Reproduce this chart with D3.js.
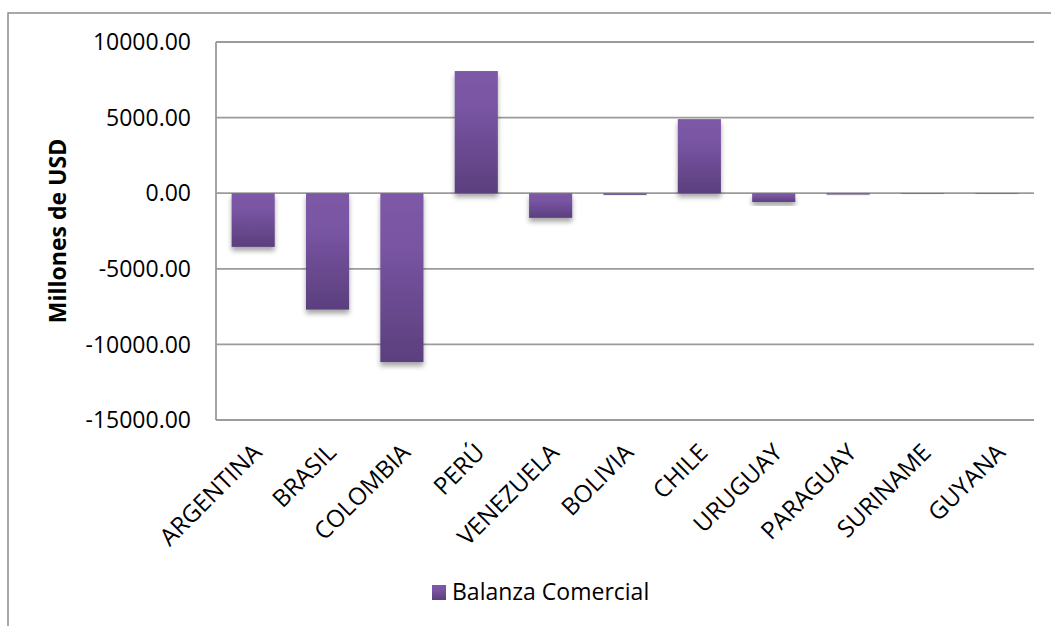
<!DOCTYPE html>
<html><head><meta charset="utf-8">
<script src="https://cdn.jsdelivr.net/npm/d3@7"></script>
<style>body{margin:0;background:#fff}svg{display:block}text{font-family:"Open Sans",sans-serif;fill:#000}</style>
</head><body><svg id="c" width="1051" height="626"></svg>
<script>
const categories = ["ARGENTINA","BRASIL","COLOMBIA","PERÚ","VENEZUELA","BOLIVIA","CHILE","URUGUAY","PARAGUAY","SURINAME","GUYANA"];
const values = [-3550, -7700, -11170, 8080, -1630, -110, 4900, -580, -90, -20, -30];
const yTicks = [10000, 5000, 0, -5000, -10000, -15000];
const seriesName = "Balanza Comercial";
const yTitle = "Millones de USD";

const svg = d3.select("#c");
const L = 216, R = 1034, T = 42, B = 420;
const x = d3.scaleBand().domain(categories).range([L, R]).paddingInner(0.42).paddingOuter(0.21);
const y = d3.scaleLinear().domain([-15000, 10000]).range([B, T]);

const defs = svg.append("defs");
const g = defs.append("linearGradient").attr("id","bg").attr("x1",0).attr("y1",0).attr("x2",0).attr("y2",1);
g.append("stop").attr("offset","0%").attr("stop-color","#7c59a7");
g.append("stop").attr("offset","30%").attr("stop-color","#7955a3");
g.append("stop").attr("offset","100%").attr("stop-color","#5b3f7d");
const f = defs.append("filter").attr("id","sh").attr("x","-20%").attr("y","-20%").attr("width","140%").attr("height","160%");
f.append("feDropShadow").attr("dx",0).attr("dy",4).attr("stdDeviation",2.5).attr("flood-color","#000").attr("flood-opacity",0.35);

// outer frame
svg.append("rect").attr("x",8).attr("y",13).attr("width",1200).attr("height",800)
  .attr("fill","none").attr("stroke","#8c8c8c").attr("stroke-width",1.5);

// gridlines
svg.append("g").selectAll("line").data(yTicks).join("line")
  .attr("x1",L).attr("x2",R).attr("y1",d=>y(d)).attr("y2",d=>y(d))
  .attr("stroke","#9b9b9b").attr("stroke-width",1.8);
svg.append("line").attr("x1",L).attr("x2",L).attr("y1",T).attr("y2",B)
  .attr("stroke","#9b9b9b").attr("stroke-width",1.8);

// y tick labels
const fmt = d => d3.format(".2f")(d).replace("\u2212","-");
svg.append("g").selectAll("text").data(yTicks).join("text")
  .attr("x",191).attr("y",d=>y(d)).attr("dy","0.36em").attr("text-anchor","end")
  .attr("font-size",23).text(fmt);

// bars
svg.append("g").selectAll("rect").data(values).join("rect")
  .attr("x",(d,i)=>x(categories[i])).attr("width",x.bandwidth())
  .attr("y",d=>y(Math.max(0,d))).attr("height",d=>Math.max(0.6,Math.abs(y(d)-y(0))))
  .attr("fill","url(#bg)").attr("filter","url(#sh)");

// x labels
svg.append("g").selectAll("text").data(categories).join("text")
  .attr("transform",d=>`translate(${x(d)+x.bandwidth()/2+4},448) rotate(-45)`)
  .attr("text-anchor","end").attr("dy","0.35em").attr("font-size",24).text(d=>d);

// y title
svg.append("text").attr("transform","translate(58,231) rotate(-90)")
  .attr("text-anchor","middle").attr("dy","0.35em").attr("font-size",23).attr("font-weight","bold").text(yTitle);

// legend
svg.append("rect").attr("x",432).attr("y",585).attr("width",14).attr("height",15).attr("fill","url(#bg)");
svg.append("text").attr("x",452).attr("y",592).attr("dy","0.36em").attr("font-size",23).text(seriesName);
</script></body></html>
